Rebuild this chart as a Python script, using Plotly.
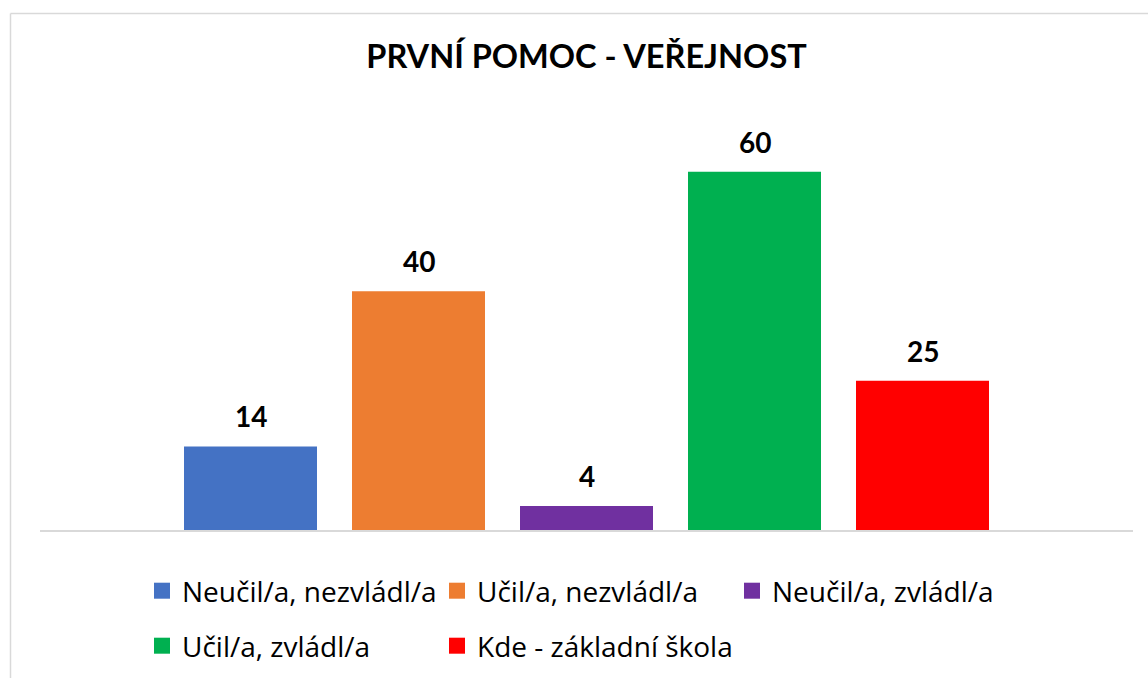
import plotly.graph_objects as go

series = ["Neučil/a, nezvládl/a", "Učil/a, nezvládl/a", "Neučil/a, zvládl/a",
          "Učil/a, zvládl/a", "Kde - základní škola"]
values = [14, 40, 4, 60, 25]
colors = ["#4472C4", "#ED7D31", "#7030A0", "#00B050", "#FF0000"]
title = "PRVNÍ POMOC - VEŘEJNOST"

W, H = 1148, 678
L, R, T, B = 40, 15, 112, 148
pw, ph = W - L - R, H - T - B

def px_x(p):
    return (p - L) / pw

def px_y(p):
    return (H - B - p) / ph

FONT = "Lato, 'Open Sans', sans-serif"
LFONT = "'Open Sans', Lato, sans-serif"

fig = go.Figure()
for name, v, c in zip(series, values, colors):
    fig.add_trace(go.Bar(x=[name], y=[v], marker=dict(color=c, line=dict(width=0)),
                         name=name, showlegend=False, hoverinfo="x+y"))

for i, (name, c) in enumerate(zip(series, colors)):
    fig.add_trace(go.Scatter(x=[None], y=[None], mode="markers", name=name,
                             marker=dict(symbol="square", size=18, color=c),
                             legend="legend" if i < 3 else "legend2"))

for name, v in zip(series, values):
    fig.add_annotation(x=name, y=v, text=f"<b>{v}</b>", showarrow=False,
                       yanchor="bottom", yshift=11,
                       font=dict(family=FONT, size=28, color="#000000"))

# chart border (top and left visible)
fig.add_shape(type="line", xref="paper", yref="paper",
              x0=px_x(10.5), x1=px_x(1200), y0=px_y(13.5), y1=px_y(13.5),
              line=dict(color="#d9d9d9", width=1.5))
fig.add_shape(type="line", xref="paper", yref="paper",
              x0=px_x(10.5), x1=px_x(10.5), y0=px_y(13.5), y1=px_y(720),
              line=dict(color="#d9d9d9", width=1.5))

span = pw / 168.0
leg_common = dict(orientation="h", xanchor="left", yanchor="middle",
                  entrywidth=250, entrywidthmode="pixels", itemsizing="trace",
                  font=dict(family=LFONT, size=28, color="#000000"),
                  bgcolor="rgba(0,0,0,0)")
fig.update_layout(
    width=W, height=H,
    margin=dict(l=L, r=R, t=T, b=B, autoexpand=False),
    paper_bgcolor="white", plot_bgcolor="white",
    barmode="overlay", bargap=1 - 133 / 168,
    title=dict(text=f"<b>{title}</b>", x=0.5, xref="paper", xanchor="center",
               y=1 - 57 / H, yref="container", yanchor="middle",
               font=dict(family=FONT, size=32.5, color="#000000")),
    xaxis=dict(range=[2 - span / 2, 2 + span / 2], showticklabels=False,
               showgrid=False, zeroline=False, showline=True,
               linecolor="#d9d9d9", linewidth=1.5, ticks=""),
    yaxis=dict(range=[0, 70], visible=False, fixedrange=True),
    legend=dict(x=px_x(142), y=px_y(591), **leg_common),
    legend2=dict(x=px_x(142), y=px_y(646), **leg_common),
)

fig.write_html("out.html", config={"displayModeBar": False},
               post_script="document.body.style.margin='0';")
